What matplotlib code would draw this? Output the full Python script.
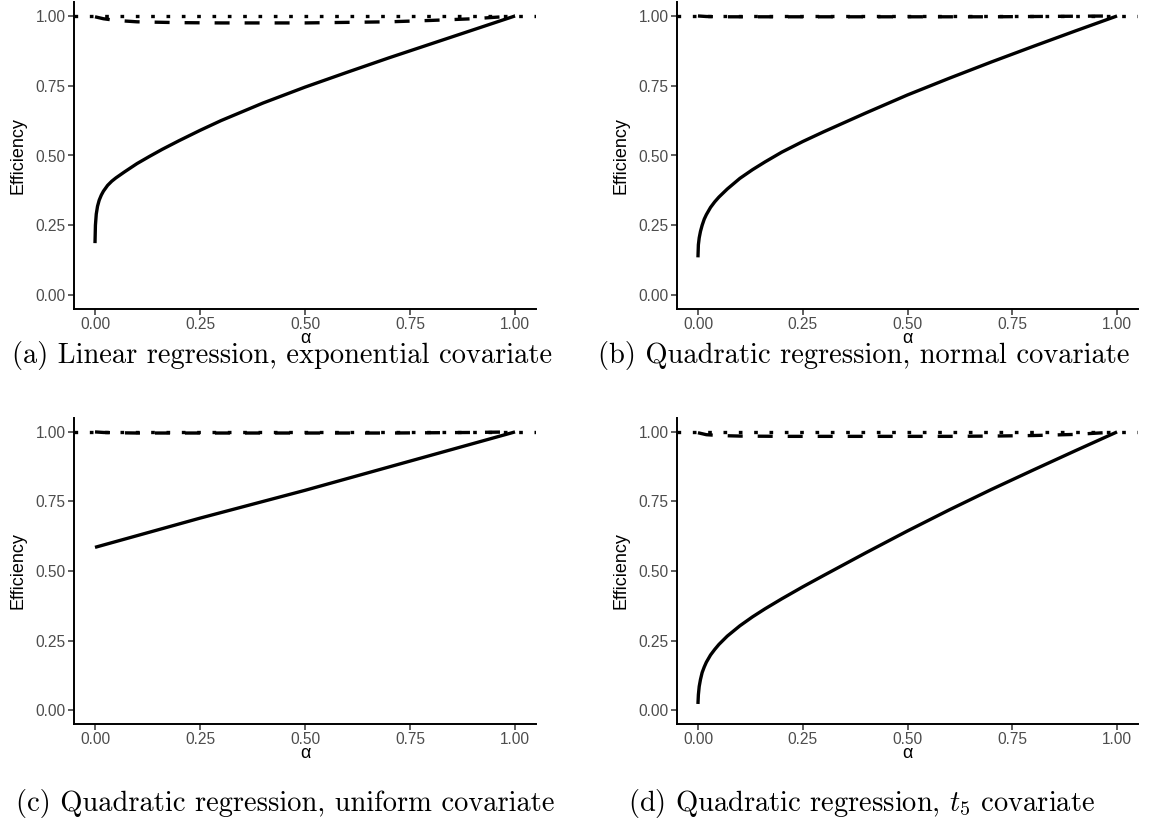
import numpy as np
import matplotlib
matplotlib.use("Agg")
import matplotlib.pyplot as plt

plt.rcParams['font.family'] = ['Liberation Sans', 'DejaVu Sans']
plt.rcParams['mathtext.fontset'] = 'cm'

# efficiency of the estimator against alpha, one set per design
alpha_grid = [0, 0.001, 0.003, 0.006, 0.01, 0.015, 0.02, 0.03, 0.04, 0.05, 0.07, 0.1, 0.13, 0.16, 0.2,
              0.25, 0.3, 0.4, 0.5, 0.6, 0.7, 0.8, 0.9, 1.0]
eff_a = [0.186, 0.25, 0.29, 0.318, 0.34, 0.358, 0.372, 0.393, 0.408, 0.42, 0.441, 0.471, 0.497,
         0.522, 0.553, 0.59, 0.625, 0.688, 0.745, 0.798, 0.85, 0.9, 0.95, 1.0]
eff_b = [0.135, 0.18, 0.205, 0.228, 0.25, 0.272, 0.288, 0.314, 0.334, 0.351, 0.38, 0.418, 0.449,
         0.477, 0.512, 0.55, 0.585, 0.652, 0.717, 0.777, 0.835, 0.891, 0.946, 1.0]
eff_d = [0.022, 0.055, 0.085, 0.11, 0.135, 0.155, 0.172, 0.198, 0.218, 0.236, 0.266, 0.303, 0.335,
         0.364, 0.4, 0.443, 0.484, 0.565, 0.644, 0.72, 0.793, 0.863, 0.932, 1.0]

alpha_c = [0, 0.25, 0.5, 0.75, 1.0]
eff_c = [0.585, 0.69, 0.79, 0.895, 1.0]

# second estimator, stays close to one
alpha_dash = [0, 0.02, 0.05, 0.1, 0.2, 0.3, 0.4, 0.5, 0.6, 0.7, 0.8, 0.9, 1.0]
dash_a = [0.997, 0.99, 0.984, 0.979, 0.976, 0.975, 0.975, 0.975, 0.977, 0.979, 0.984, 0.99, 1.0]
dash_b = [1.0, 0.998, 0.997, 0.997, 0.997, 0.997, 0.997, 0.997, 0.997, 0.997, 0.998, 0.999, 1.0]
dash_c = [1.0, 0.998, 0.997, 0.996, 0.996, 0.996, 0.996, 0.996, 0.996, 0.996, 0.997, 0.998, 1.0]
dash_d = [0.997, 0.99, 0.987, 0.985, 0.984, 0.984, 0.984, 0.984, 0.984, 0.985, 0.987, 0.991, 1.0]

ref_level = 1.0

ticks = [0, 0.25, 0.5, 0.75, 1.0]
tick_labels = ["0.00", "0.25", "0.50", "0.75", "1.00"]

captions = [
    "(a) Linear regression, exponential covariate",
    "(b) Quadratic regression, normal covariate",
    "(c) Quadratic regression, uniform covariate",
    "(d) Quadratic regression, $t_5$ covariate",
]

W, H = 1150, 823
fig = plt.figure(figsize=(W / 100, H / 100), dpi=100)

# pixel boxes: left, top, right, bottom
boxes = [(74, 2, 536, 309), (677, 2, 1138, 309),
         (74, 418, 536, 724), (677, 418, 1138, 724)]
cap_pos = [(282, 356), (864, 356), (285, 804), (862, 804)]
solid = [(alpha_grid, eff_a), (alpha_grid, eff_b), (alpha_c, eff_c), (alpha_grid, eff_d)]
dashed = [dash_a, dash_b, dash_c, dash_d]

lw = 2.4
for i, (l, t, r, b) in enumerate(boxes):
    ax = fig.add_axes([l / W, 1 - b / H, (r - l) / W, (b - t) / H])
    ax.axhline(ref_level, color='black', lw=lw, dashes=(1.1, 3.5), dash_capstyle='butt')
    ax.plot(alpha_dash, dashed[i], color='black', lw=lw, dashes=(4.5, 4.5), dash_capstyle='butt')
    ax.plot(solid[i][0], solid[i][1], color='black', lw=lw, solid_capstyle='butt',
            solid_joinstyle='round')
    ax.set_xlim(-0.05, 1.05)
    ax.set_ylim(-0.05, 1.05)
    ax.set_xticks(ticks)
    ax.set_xticklabels(tick_labels)
    ax.set_yticks(ticks)
    ax.set_yticklabels(tick_labels)
    for s in ['top', 'right']:
        ax.spines[s].set_visible(False)
    for s in ['left', 'bottom']:
        ax.spines[s].set_linewidth(1.4)
    ax.tick_params(length=4, width=1.1, color='#333333', labelcolor='#4D4D4D',
                   labelsize=11.2, pad=2)
    ax.set_xlabel("α", fontsize=13)
    ax.xaxis.set_label_coords(0.5, -0.112)
    ax.xaxis.label.set_va('baseline')
    ax.set_ylabel("Efficiency", fontsize=13)
    ax.yaxis.set_label_coords(-0.121, 0.5)
    ax.yaxis.label.set_va('center')
    fig.text(cap_pos[i][0] / W, 1 - cap_pos[i][1] / H, captions[i],
             ha='center', va='center', fontsize=20.5, family='cmr10')

fig.savefig("out.png", dpi=100)
